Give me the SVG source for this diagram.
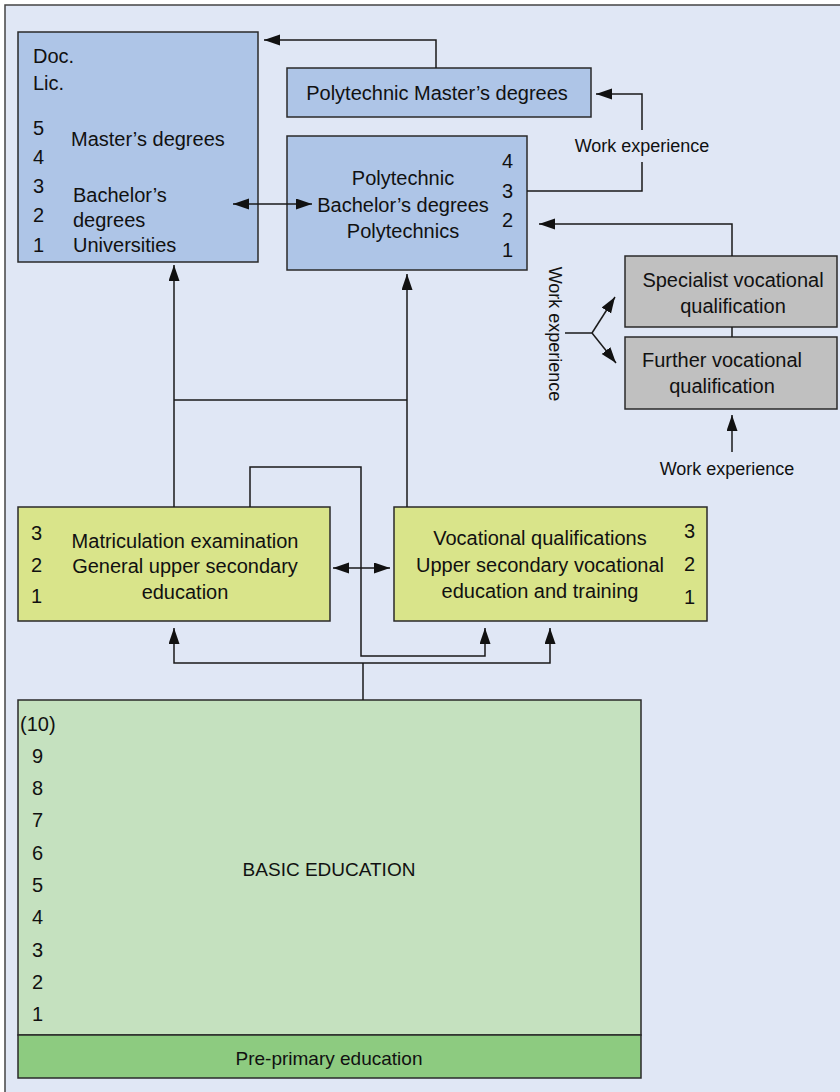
<svg xmlns="http://www.w3.org/2000/svg" width="840" height="1092" viewBox="0 0 840 1092">
  <style>
    text { font-family: "Liberation Sans", Arial, sans-serif; font-size: 20px; fill: #111; }
    .small { font-size: 18px; }
    .mid { text-anchor: middle; }
    .box { stroke: #2a2a2a; stroke-width: 1.5; }
    .blue { fill: #aec5e7; }
    .yellow { fill: #d9e48a; }
    .grey { fill: #c0c0c0; }
    .basic { fill: #c5e1bf; }
    .pre { fill: #8dcb80; }
    .line { fill: none; stroke: #1a1a1a; stroke-width: 1.5; }
  </style>
  <defs>
    <marker id="arrow" markerUnits="userSpaceOnUse" markerWidth="17" markerHeight="12" refX="16" refY="5.5" orient="auto-start-reverse">
      <path d="M0,0 L16,5.5 L0,11 z" fill="#111"/>
    </marker>
  </defs>

  <!-- background frame -->
  <rect x="5" y="5" width="850" height="1100" fill="#e0e7f5" stroke="#444" stroke-width="1.5"/>

  <!-- universities -->
  <g id="universities">
    <rect class="box blue" x="18" y="32" width="240" height="230"/>
    <text x="33" y="63">Doc.</text>
    <text x="33" y="90">Lic.</text>
    <text x="33" y="135">5</text>
    <text x="33" y="164">4</text>
    <text x="33" y="193">3</text>
    <text x="33" y="222">2</text>
    <text x="33" y="252">1</text>
    <text x="71" y="146">Master’s degrees</text>
    <text x="73" y="202">Bachelor’s</text>
    <text x="73" y="227">degrees</text>
    <text x="73" y="252">Universities</text>
  </g>

  <!-- polytechnic master's degrees -->
  <g id="poly-masters">
    <rect class="box blue" x="287" y="68" width="304" height="49"/>
    <text class="mid" x="437" y="100">Polytechnic Master’s degrees</text>
  </g>

  <!-- polytechnic bachelor's degrees -->
  <g id="poly-bachelors">
    <rect class="box blue" x="287" y="136" width="240" height="134"/>
    <text class="mid" x="403" y="185">Polytechnic</text>
    <text class="mid" x="403" y="212">Bachelor’s degrees</text>
    <text class="mid" x="403" y="238">Polytechnics</text>
    <text x="502" y="168">4</text>
    <text x="502" y="198">3</text>
    <text x="502" y="227">2</text>
    <text x="502" y="257">1</text>
  </g>

  <!-- work experience labels -->
  <g id="work-exp-top">
    <text class="small mid" x="642" y="152">Work experience</text>
  </g>
  <g id="work-exp-side">
    <text class="small mid" transform="translate(549,334) rotate(90)" x="0" y="0">Work experience</text>
  </g>
  <g id="work-exp-bottom">
    <text class="small mid" x="727" y="475">Work experience</text>
  </g>

  <!-- specialist vocational qualification -->
  <g id="specialist">
    <rect class="box grey" x="625" y="256" width="212" height="71"/>
    <text class="mid" x="733" y="287">Specialist vocational</text>
    <text class="mid" x="733" y="313">qualification</text>
  </g>

  <!-- further vocational qualification -->
  <g id="further">
    <rect class="box grey" x="625" y="337" width="212" height="72"/>
    <text class="mid" x="722" y="367">Further vocational</text>
    <text class="mid" x="722" y="393">qualification</text>
  </g>

  <!-- general upper secondary -->
  <g id="general-upper-secondary">
    <rect class="box yellow" x="18" y="507" width="312" height="114"/>
    <text x="31" y="540">3</text>
    <text x="31" y="572">2</text>
    <text x="31" y="603">1</text>
    <text class="mid" x="185" y="548">Matriculation examination</text>
    <text class="mid" x="185" y="573">General upper secondary</text>
    <text class="mid" x="185" y="599">education</text>
  </g>

  <!-- vocational upper secondary -->
  <g id="vocational-upper-secondary">
    <rect class="box yellow" x="394" y="507" width="313" height="114"/>
    <text class="mid" x="540" y="545">Vocational qualifications</text>
    <text class="mid" x="540" y="572">Upper secondary vocational</text>
    <text class="mid" x="540" y="598">education and training</text>
    <text x="684" y="538">3</text>
    <text x="684" y="571">2</text>
    <text x="684" y="604">1</text>
  </g>

  <!-- basic education -->
  <g id="basic-education">
    <rect class="box basic" x="18" y="700" width="623" height="335"/>
    <text x="20" y="731">(10)</text>
    <text x="32" y="763">9</text>
    <text x="32" y="795">8</text>
    <text x="32" y="827">7</text>
    <text x="32" y="860">6</text>
    <text x="32" y="892">5</text>
    <text x="32" y="924">4</text>
    <text x="32" y="957">3</text>
    <text x="32" y="989">2</text>
    <text x="32" y="1021">1</text>
    <text class="mid" x="329" y="876" style="font-size:19px">BASIC EDUCATION</text>
  </g>

  <!-- pre-primary education -->
  <g id="pre-primary">
    <rect class="box pre" x="18" y="1035" width="623" height="43"/>
    <text class="mid" x="329" y="1065" style="font-size:19px">Pre-primary education</text>
  </g>

  <!-- connectors, drawn last so the university/polytechnic link sits over both boxes -->
  <g id="connectors">
    <path class="line" d="M436,68 V40 H264" marker-end="url(#arrow)"/>
    <path class="line" d="M642,130 V94 H596" marker-end="url(#arrow)"/>
    <path class="line" d="M527,191 H642 V162"/>
    <path class="line" d="M732,256 V224 H539" marker-end="url(#arrow)"/>
    <path class="line" d="M732,327 V337"/>
    <path class="line" d="M565,333 H592"/>
    <path class="line" d="M592,333 L615,297" marker-end="url(#arrow)"/>
    <path class="line" d="M592,333 L616,363" marker-end="url(#arrow)"/>
    <path class="line" d="M732,452 V415" marker-end="url(#arrow)"/>
    <path class="line" d="M233,204 H312" marker-start="url(#arrow)" marker-end="url(#arrow)"/>
    <path class="line" d="M174,507 V265" marker-end="url(#arrow)"/>
    <path class="line" d="M174,400 H407"/>
    <path class="line" d="M407,507 V274" marker-end="url(#arrow)"/>
    <path class="line" d="M250,507 V467 H361 V656 H485 V628" marker-end="url(#arrow)"/>
    <path class="line" d="M363,700 V663"/>
    <path class="line" d="M174,628 V663 H550 V628" marker-start="url(#arrow)" marker-end="url(#arrow)"/>
    <path class="line" d="M333,568 H390" marker-start="url(#arrow)" marker-end="url(#arrow)"/>
  </g>
</svg>
